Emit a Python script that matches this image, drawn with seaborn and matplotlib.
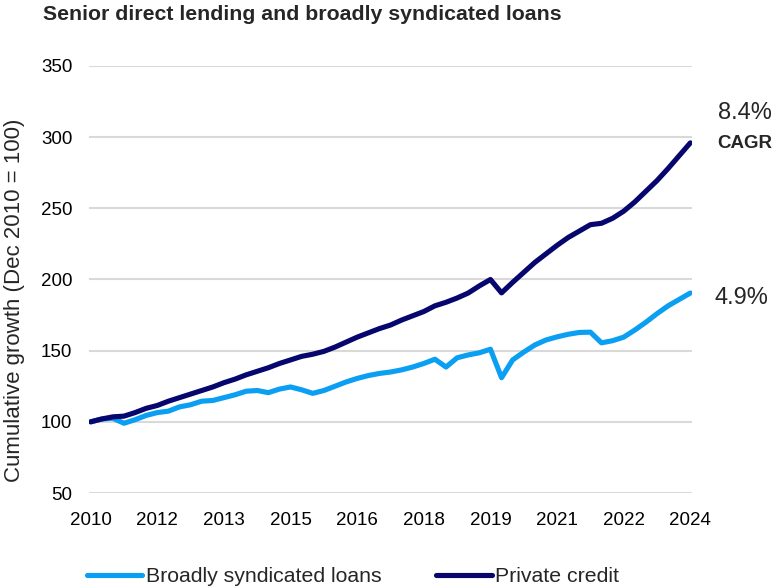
import numpy as np
import pandas as pd
import matplotlib
matplotlib.use("Agg")
import matplotlib.pyplot as plt
from matplotlib.lines import Line2D
import seaborn as sns

# Quarterly data, Dec 2010 .. Jun 2024 (Dec 2010 = 100)
quarters = [str(p) for p in pd.period_range("2010Q4", "2024Q2", freq="Q")]

broadly_syndicated = [
    100, 102, 102.5, 99, 101.5, 104.5, 106.5, 107.5, 110.5, 112,
    114.5, 115, 117, 119, 121.5, 122, 120.5, 123, 124.5, 122.5,
    120, 122, 125, 128, 130.5, 132.5, 134, 135, 136.5, 138.5,
    141, 144, 138.5, 145, 147, 148.5, 151, 131, 143.5, 149,
    154, 157.5, 159.7, 161.5, 162.8, 163, 155.5, 157, 159.5, 164.5,
    170, 176, 181.5, 186, 190.5,
]
private_credit = [
    100, 102, 103.5, 104, 106.5, 109.5, 111.5, 114.5, 117, 119.5,
    122, 124.5, 127.5, 130, 133, 135.5, 138, 141, 143.5, 146,
    147.5, 149.5, 152.5, 156, 159.5, 162.5, 165.5, 168, 171.5, 174.5,
    177.5, 181.5, 184, 187, 190.5, 195.5, 200, 190.6, 198, 205,
    212, 218, 224, 229.5, 234, 238.5, 239.5, 243, 248, 254.5,
    262, 269.5, 278, 287, 296,
]
series_names = ["Broadly syndicated loans", "Private credit"]
tick_labels = ["2010", "2012", "2013", "2015", "2016", "2018", "2019", "2021", "2022", "2024"]
cagr_labels = ["4.9%", "8.4%"]

colors = {"Broadly syndicated loans": "#0a9ff2", "Private credit": "#06066e"}

n = len(quarters)
df = pd.DataFrame({
    "q": list(range(n)) * 2,
    "value": broadly_syndicated + private_credit,
    "series": [series_names[0]] * n + [series_names[1]] * n,
})

sns.set_theme(style="white")
plt.rcParams["font.family"] = ["Liberation Sans", "DejaVu Sans"]

W, H = 782, 587
fig = plt.figure(figsize=(W / 100, H / 100), dpi=100)
ax = fig.add_axes([89 / W, 1 - 493 / H, (692 - 89) / W, (493 - 66) / H])

sns.lineplot(data=df, x="q", y="value", hue="series", palette=colors,
             linewidth=3.7, ax=ax, legend=False)
for ln in ax.lines:
    ln.set_solid_capstyle("round")
    ln.set_solid_joinstyle("round")

ax.set_xlim(-0.15, n - 1 + 0.15)
ax.set_ylim(50, 350)
ax.set_yticks(range(50, 351, 50))
ax.set_xticks(range(0, n, 6))
ax.set_xticklabels(tick_labels)
ax.grid(axis="y", color="#d9d9d9", linewidth=1.5)
ax.grid(axis="x", visible=False)
ax.set_axisbelow(True)
for s in ax.spines.values():
    s.set_visible(False)
ax.tick_params(axis="both", length=0, labelsize=13.5, colors="black")
ax.tick_params(axis="x", pad=14)
ax.tick_params(axis="y", pad=12)
ax.set_xlabel("")
ax.set_ylabel("")

fig.text(15 / W, 1 - 300 / H, "Cumulative growth (Dec 2010 = 100)", rotation=90,
         ha="center", va="center", fontsize=16)
fig.text(43 / W, 1 - 15 / H, "Senior direct lending and broadly syndicated loans",
         ha="left", va="center", fontsize=15.3, fontweight="bold")

fig.text(745 / W, 1 - 113 / H, cagr_labels[1], ha="center", va="center", fontsize=17)
fig.text(745 / W, 1 - 144 / H, "CAGR", ha="center", va="center", fontsize=13.5, fontweight="bold")
fig.text(741 / W, 1 - 298 / H, cagr_labels[0], ha="center", va="center", fontsize=17)

handles = [Line2D([], [], color=colors[s], lw=3.7, solid_capstyle="round") for s in series_names]
fig.legend(handles, series_names, loc="center", bbox_to_anchor=(353 / W, 1 - 577 / H),
           ncol=2, frameon=False, handlelength=2.6, handletextpad=0.15,
           columnspacing=2.6, fontsize=15.3, borderpad=0, borderaxespad=0)

fig.savefig("out.png", dpi=100)
